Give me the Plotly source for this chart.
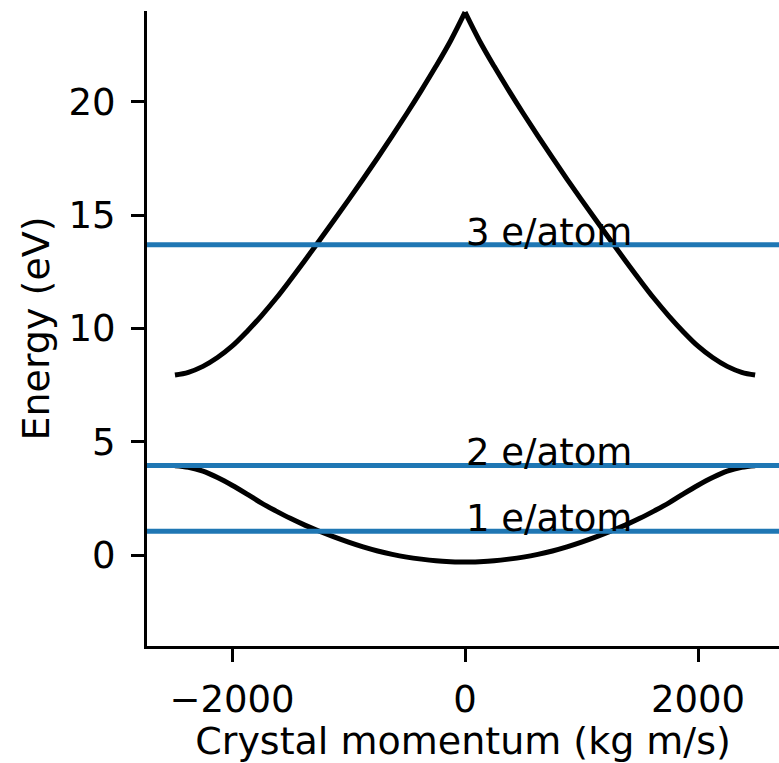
import plotly.graph_objects as go

# Crystal momentum samples (kg m/s)
k = [-2490, -2375, -2250, -2125, -2000, -1875, -1750, -1625, -1500, -1375, -1250,
     -1125, -1000, -875, -750, -625, -500, -375, -250, -125, 0,
     125, 250, 375, 500, 625, 750, 875, 1000, 1125, 1250,
     1375, 1500, 1625, 1750, 1875, 2000, 2125, 2250, 2375, 2490]

# Lower band energies (eV)
lower_band = [3.95, 3.88, 3.71, 3.43, 3.09, 2.71, 2.31, 1.96, 1.63, 1.33, 1.06,
              0.81, 0.58, 0.37, 0.19, 0.04, -0.08, -0.17, -0.24, -0.28, -0.30,
              -0.28, -0.24, -0.17, -0.08, 0.04, 0.19, 0.37, 0.58, 0.81, 1.06,
              1.33, 1.63, 1.96, 2.31, 2.71, 3.09, 3.43, 3.71, 3.88, 3.95]

# Upper band energies (eV)
upper_band = [7.95, 8.07, 8.33, 8.72, 9.22, 9.85, 10.55, 11.31, 12.14, 13.00, 13.88,
              14.77, 15.67, 16.59, 17.53, 18.49, 19.48, 20.50, 21.56, 22.68, 23.95,
              22.68, 21.56, 20.50, 19.48, 18.49, 17.53, 16.59, 15.67, 14.77, 13.88,
              13.00, 12.14, 11.31, 10.55, 9.85, 9.22, 8.72, 8.33, 8.07, 7.95]

# Fermi levels for electron fillings
fill_levels = [1.06, 3.96, 13.69]
fill_labels = ["1 e/atom", "2 e/atom", "3 e/atom"]

x_ticks = [-2000, 0, 2000]
y_ticks = [0, 5, 10, 15, 20]

FONT = "DejaVu Sans"
FS = 37
FS_TITLE = 38

fig = go.Figure()
curve = dict(color="black", width=5, shape="spline")
fig.add_trace(go.Scatter(x=k, y=lower_band, mode="lines", line=curve, showlegend=False))
mid = k.index(0)
fig.add_trace(go.Scatter(x=k[:mid + 1], y=upper_band[:mid + 1], mode="lines", line=curve, showlegend=False))
fig.add_trace(go.Scatter(x=k[mid:], y=upper_band[mid:], mode="lines", line=curve, showlegend=False))

for lvl, lab in zip(fill_levels, fill_labels):
    fig.add_shape(type="line", xref="paper", x0=0, x1=1, yref="y", y0=lvl, y1=lvl,
                  line=dict(color="#1f77b4", width=5), layer="above")
    fig.add_annotation(x=0, y=lvl, xref="x", yref="y", text=lab, showarrow=False,
                       xanchor="left", yanchor="bottom", yshift=-11, xshift=-1,
                       font=dict(family=FONT, size=FS, color="black"))

axis_common = dict(showline=True, linecolor="black", linewidth=3, ticks="outside",
                   ticklen=13, tickwidth=3, tickcolor="black", showgrid=False,
                   zeroline=False, tickfont=dict(family=FONT, size=FS, color="black"))

fig.update_layout(
    width=779, height=763,
    margin=dict(l=147, r=0, t=11, b=117, pad=0),
    plot_bgcolor="white", paper_bgcolor="white",
    xaxis=dict(range=[-2730, 2695], tickvals=x_ticks, ticklabelstandoff=6,
               title=dict(text="Crystal momentum (kg m/s)", standoff=9,
                          font=dict(family=FONT, size=FS_TITLE, color="black")),
               **axis_common),
    yaxis=dict(range=[-4, 24], tickvals=y_ticks, ticklabelstandoff=8,
               title=dict(text="Energy (eV)", standoff=8,
                          font=dict(family=FONT, size=FS_TITLE, color="black")),
               **axis_common),
)

fig.write_html("out.html")
